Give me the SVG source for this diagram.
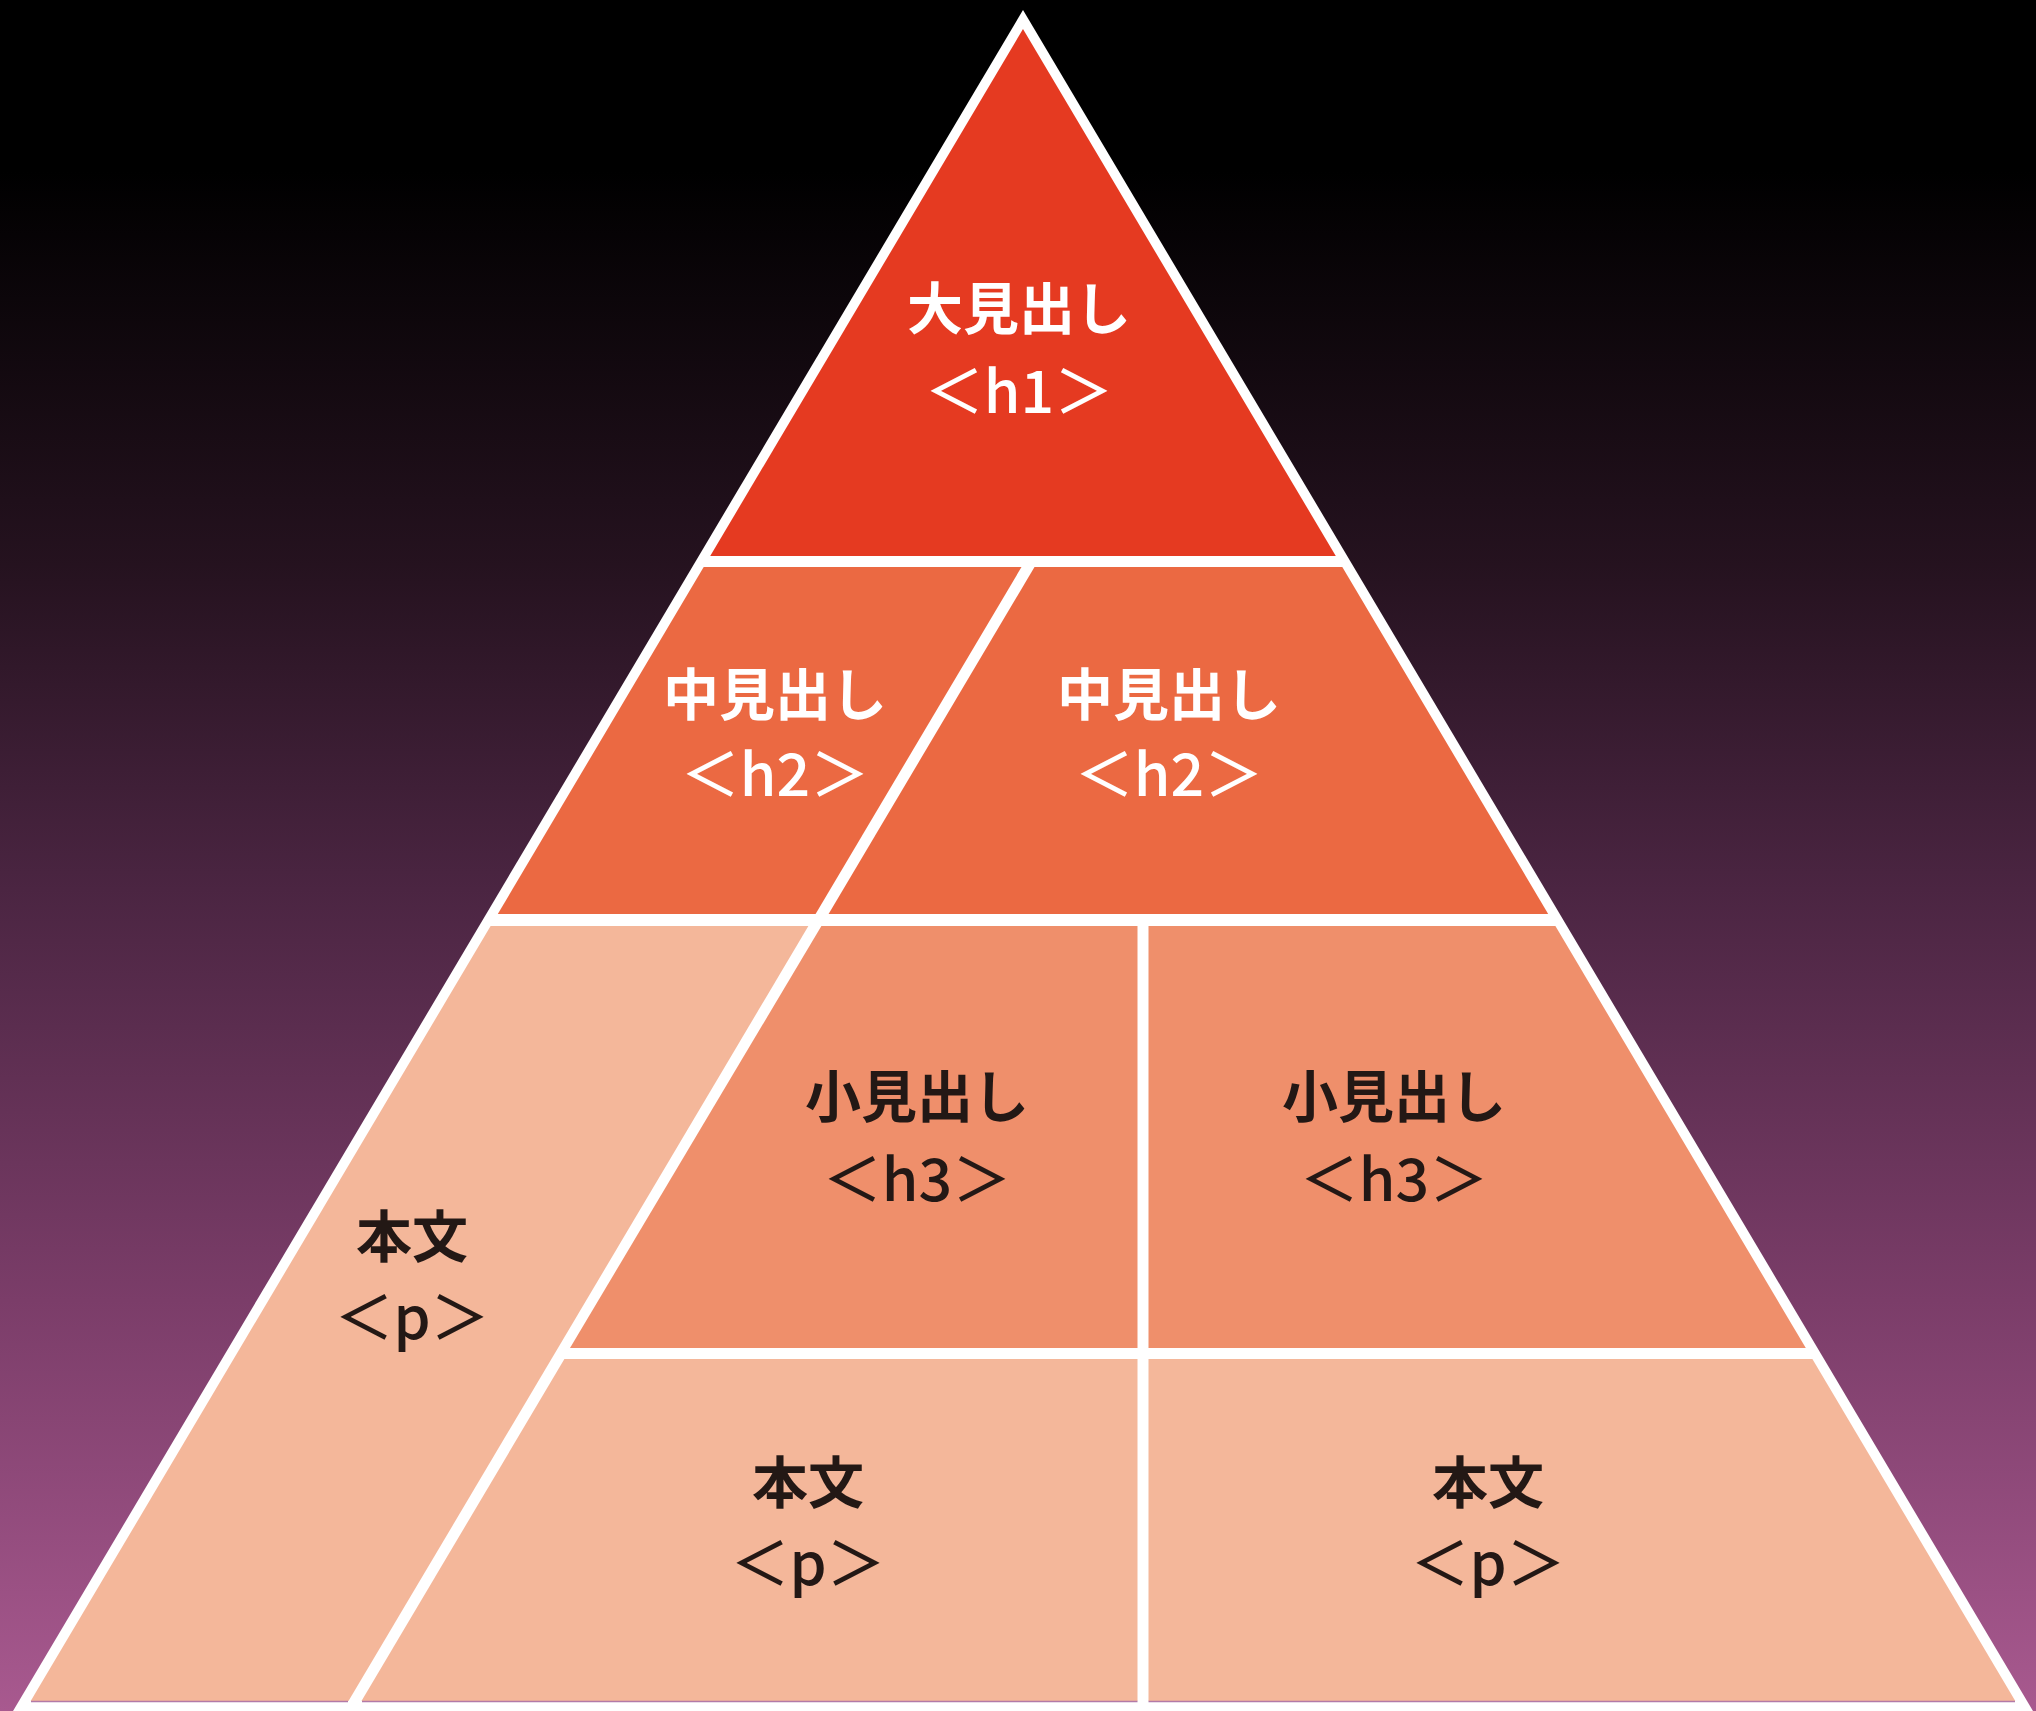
<svg xmlns="http://www.w3.org/2000/svg" width="2036" height="1711" viewBox="0 0 2036 1711">
  <defs>
    <linearGradient id="bg" x1="0" y1="0" x2="0" y2="1">
      <stop offset="0" stop-color="#000000"/>
      <stop offset="0.1" stop-color="#000000"/>
      <stop offset="0.33" stop-color="#25121f"/>
      <stop offset="0.52" stop-color="#4b2542"/>
      <stop offset="0.76" stop-color="#7b3d69"/>
      <stop offset="1" stop-color="#a8598f"/>
    </linearGradient>
  </defs>
  <style>
    .lw { font-family: "Noto Sans CJK JP", "Noto Sans", sans-serif; fill: #ffffff; text-anchor: middle; }
    .ld { font-family: "Noto Sans CJK JP", "Noto Sans", sans-serif; fill: #231815; text-anchor: middle; }
    .k { font-weight: 700; font-size: 56px; }
    .t { font-weight: 500; font-size: 59px; }
    .red { fill: #e53a21; }
    .h2 { fill: #eb6942; }
    .h3 { fill: #ef8f6b; }
    .p { fill: #f4b79a; }
    .edge { stroke: #b27aa8; stroke-width: 1.5; }
  </style>
  <rect x="0" y="0" width="2036" height="1711" fill="url(#bg)"/>
  <g id="frame">
    <polygon points="1023,10 13,1711 2033,1711" fill="#ffffff"/>
  </g>
  <g id="connectors"></g>
  <g id="h1">
    <polygon class="red" points="1023,29 710.2,556 1335.8,556"/>
    <text class="lw k" x="1019" y="329">大見出し</text>
    <text class="lw t" x="1019" y="413">＜h1＞</text>
  </g>
  <g id="h2-left">
    <polygon class="h2" points="703.7,567 1021.5,567 815.6,914 497.8,914"/>
    <text class="lw k" x="775" y="715">中見出し</text>
    <text class="lw t" x="775" y="796">＜h2＞</text>
  </g>
  <g id="h2-right">
    <polygon class="h2" points="1034.5,567 1342.3,567 1548.2,914 828.6,914"/>
    <text class="lw k" x="1169" y="715">中見出し</text>
    <text class="lw t" x="1169" y="796">＜h2＞</text>
  </g>
  <g id="p-left">
    <polygon class="p" points="490.6,926 808.4,926 348.5,1701 30.7,1701"/>
    <line class="edge" x1="31" y1="1701.5" x2="348" y2="1701.5"/>
    <text class="ld k" x="412" y="1257">本文</text>
    <text class="ld t" x="412" y="1339">＜p＞</text>
  </g>
  <g id="h3-middle">
    <polygon class="h3" points="821.4,926 1137.5,926 1137.5,1348 570,1348"/>
    <text class="ld k" x="917" y="1117">小見出し</text>
    <text class="ld t" x="917" y="1201">＜h3＞</text>
  </g>
  <g id="h3-right">
    <polygon class="h3" points="1148.5,926 1555.4,926 1805.8,1348 1148.5,1348"/>
    <text class="ld k" x="1394" y="1117">小見出し</text>
    <text class="ld t" x="1394" y="1201">＜h3＞</text>
  </g>
  <g id="p-middle">
    <polygon class="p" points="564.4,1359 1137.5,1359 1137.5,1701 361.5,1701"/>
    <line class="edge" x1="362" y1="1701.5" x2="1137.5" y2="1701.5"/>
    <text class="ld k" x="808" y="1503">本文</text>
    <text class="ld t" x="808" y="1585">＜p＞</text>
  </g>
  <g id="p-right">
    <polygon class="p" points="1148.5,1359 1812.4,1359 2015.3,1701 1148.5,1701"/>
    <line class="edge" x1="1148.5" y1="1701.5" x2="2015" y2="1701.5"/>
    <text class="ld k" x="1488" y="1503">本文</text>
    <text class="ld t" x="1488" y="1585">＜p＞</text>
  </g>
</svg>
